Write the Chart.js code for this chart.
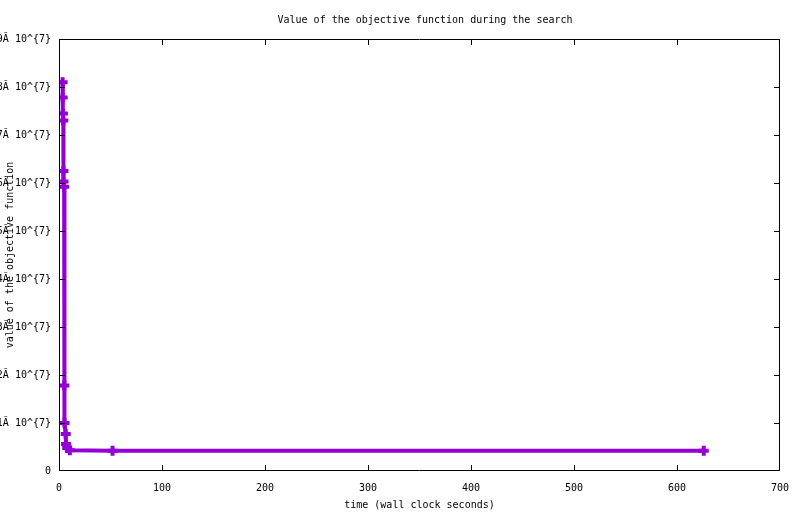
<!DOCTYPE html>
<html>
<head>
<meta charset="utf-8">
<script src="https://cdn.jsdelivr.net/npm/chart.js@4"></script>
<style>
html,body{margin:0;padding:0;background:#fff;}
#wrap{width:800px;height:514px;}
</style>
</head>
<body>
<div id="wrap"><canvas id="c" width="800" height="514"></canvas></div>
<script>
const times = [3.5, 3.6, 3.8, 4.2, 4.3, 4.4, 5.0, 5.2, 5.4, 6.5, 6.8, 8.0, 10.5, 52, 626];
const values = [8.1e7, 7.78e7, 7.45e7, 7.3e7, 6.25e7, 6.03e7, 5.92e7, 1.78e7, 1.0e7, 0.77e7, 0.56e7, 0.48e7, 0.43e7, 0.42e7, 0.42e7];
const xTicks = [0, 100, 200, 300, 400, 500, 600, 700];
const yTicks = [0, 1e7, 2e7, 3e7, 4e7, 5e7, 6e7, 7e7, 8e7, 9e7];
const yTickLabels = ["0", "1Ă 10^{7}", "2Ă 10^{7}", "3Ă 10^{7}", "4Ă 10^{7}", "5Ă 10^{7}", "6Ă 10^{7}", "7Ă 10^{7}", "8Ă 10^{7}", "9Ă 10^{7}"];
const titleText = "Value of the objective function during the search";
const xTitle = "time (wall clock seconds)";
const yTitle = "value of the objective function";

const FONT = {family: "'DejaVu Sans Mono', monospace", size: 10, lineHeight: 1.2};
const points = times.map((t, i) => ({x: t, y: values[i]}));

const framePlugin = {
  id: 'frame',
  afterLayout(chart) {
    const tb = chart.titleBlock;
    if (tb) { tb.left = 70; tb.right = 780; tb.width = tb.right - tb.left; }
  },
  afterDraw(chart) {
    const {ctx, chartArea: a, scales: {x, y}} = chart;
    ctx.save();
    ctx.strokeStyle = '#000';
    ctx.lineWidth = 1;
    ctx.beginPath();
    ctx.rect(a.left + 0.5, a.top + 0.5, a.right - a.left - 1, a.bottom - a.top - 1);
    ctx.stroke();
    const L = 6;
    const cx = v => Math.min(Math.max(Math.round(v) + 0.5, a.left + 0.5), a.right - 0.5);
    const cy = v => Math.min(Math.max(Math.round(v) + 0.5, a.top + 0.5), a.bottom - 0.5);
    ctx.beginPath();
    xTicks.forEach(v => {
      const px = cx(x.getPixelForValue(v));
      ctx.moveTo(px, a.bottom); ctx.lineTo(px, a.bottom - L);
      ctx.moveTo(px, a.top); ctx.lineTo(px, a.top + L);
    });
    yTicks.forEach(v => {
      const py = cy(y.getPixelForValue(v));
      ctx.moveTo(a.left, py); ctx.lineTo(a.left + L, py);
      ctx.moveTo(a.right, py); ctx.lineTo(a.right - L, py);
    });
    ctx.stroke();
    ctx.restore();
  }
};

new Chart(document.getElementById('c'), {
  type: 'line',
  data: {
    datasets: [{
      data: points,
      borderColor: '#9400d3',
      backgroundColor: '#9400d3',
      borderWidth: 4,
      pointStyle: 'cross',
      pointRadius: 5,
      pointBorderWidth: 4,
      pointBorderColor: '#9400d3',
      tension: 0,
      fill: false
    }]
  },
  options: {
    responsive: false,
    animation: false,
    devicePixelRatio: 1,
    layout: {padding: {left: 0, right: 20, top: 0, bottom: 0}},
    plugins: {
      legend: {display: false},
      tooltip: {enabled: false},
      title: {
        display: true, text: titleText, color: '#000',
        font: {family: FONT.family, size: 10, weight: 'normal', lineHeight: 1.2},
        padding: {top: 14, bottom: 13}
      }
    },
    scales: {
      x: {
        type: 'linear', min: 0, max: 700,
        afterBuildTicks: s => { s.ticks = xTicks.map(v => ({value: v})); },
        afterFit: s => { s.height = 43; },
        grid: {display: false, drawTicks: false},
        border: {display: false},
        ticks: {color: '#000', font: FONT, padding: 11, maxRotation: 0, autoSkip: false},
        title: {display: true, text: xTitle, color: '#000', font: FONT, padding: {top: 0, bottom: 3}}
      },
      y: {
        type: 'linear', min: 0, max: 9e7,
        afterBuildTicks: s => { s.ticks = yTicks.map(v => ({value: v})); },
        afterFit: s => { s.width = 59; },
        grid: {display: false, drawTicks: false},
        border: {display: false},
        ticks: {
          color: '#000', font: FONT, padding: 8, autoSkip: false,
          callback: v => { const i = yTicks.indexOf(v); return i >= 0 ? yTickLabels[i] : ''; }
        },
        title: {display: true, text: yTitle, color: '#000', font: FONT, padding: {top: 4, bottom: 0}}
      }
    }
  },
  plugins: [framePlugin]
});
</script>
</body>
</html>
